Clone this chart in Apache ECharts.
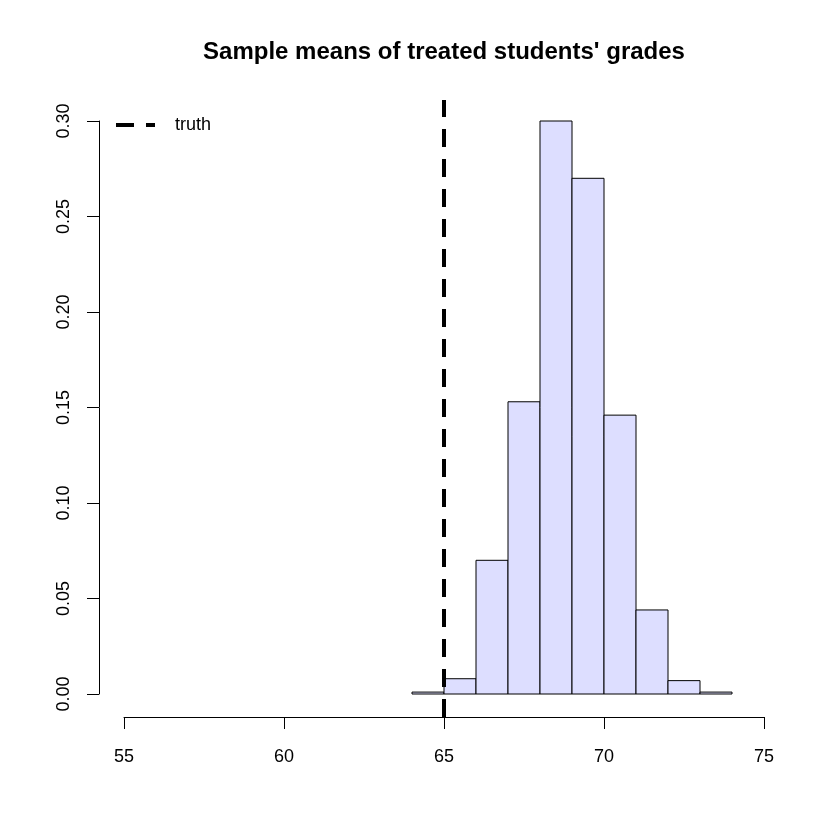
<!DOCTYPE html>
<html>
<head>
<meta charset="utf-8">
<script src="https://cdn.jsdelivr.net/npm/echarts@6/dist/echarts.min.js"></script>
<style>
  html, body { margin: 0; padding: 0; background: #fff; }
  #chart { width: 840px; height: 840px; }
</style>
</head>
<body>
<div id="chart"></div>
<script>
// histogram bins (width 1) and their densities
const binStarts = [64, 65, 66, 67, 68, 69, 70, 71, 72, 73]
const binWidth = 1
const densities = [0.001, 0.008, 0.070, 0.153, 0.300, 0.270, 0.146, 0.044, 0.007, 0.001]
const truth = 65
const truthSpan = [-0.012, 0.311]
const xTicks = [55, 60, 65, 70, 75]
const yTicks = [0, 0.05, 0.10, 0.15, 0.20, 0.25, 0.30]

const font = 'Liberation Sans, Arial, sans-serif'

const chart = echarts.init(document.getElementById('chart'))

const histData = binStarts.map((s, i) => [s, s + binWidth, densities[i]])

chart.setOption({
  animation: false,
  title: {
    text: "Sample means of treated students' grades",
    left: 439,
    top: 35,
    textAlign: 'center',
    textStyle: { fontFamily: font, fontSize: 24, fontWeight: 'bold', color: '#000' }
  },
  legend: {
    left: 111,
    top: 111,
    itemWidth: 39,
    itemHeight: 4,
    icon: 'path://M0,0L18,0L18,4L0,4Z M30,0L39,0L39,4L30,4Z',
    data: ['truth'],
    textStyle: { fontFamily: font, fontSize: 18, color: '#000', padding: [0, 0, 0, 15] }
  },
  grid: { left: 124, right: 76, top: 121, bottom: 146 },
  xAxis: {
    type: 'value',
    min: xTicks[0],
    max: xTicks[xTicks.length - 1],
    interval: 5,
    offset: 23,
    splitLine: { show: false },
    axisLine: { onZero: false, lineStyle: { color: '#000', width: 1 } },
    axisTick: { length: 12, lineStyle: { color: '#000' } },
    axisLabel: { margin: 31, fontFamily: font, fontSize: 18, color: '#000' }
  },
  yAxis: {
    type: 'value',
    min: yTicks[0],
    max: yTicks[yTicks.length - 1],
    interval: 0.05,
    offset: 25,
    splitLine: { show: false },
    axisLine: { show: true, lineStyle: { color: '#000', width: 1 } },
    axisTick: { show: true, length: 12, lineStyle: { color: '#000' } },
    axisLabel: {
      rotate: 90,
      margin: 26,
      fontFamily: font,
      fontSize: 18,
      color: '#000',
      formatter: v => v.toFixed(2)
    }
  },
  series: [
    {
      type: 'custom',
      name: 'hist',
      data: histData,
      renderItem: (params, api) => {
        const p0 = api.coord([api.value(0), 0])
        const p1 = api.coord([api.value(1), api.value(2)])
        return {
          type: 'rect',
          shape: { x: p0[0], y: p1[1], width: p1[0] - p0[0], height: p0[1] - p1[1] },
          style: { fill: '#dddeff', stroke: '#000', lineWidth: 1 }
        }
      }
    },
    {
      type: 'line',
      name: 'truth',
      clip: false,
      symbol: 'none',
      data: [[truth, truthSpan[0]], [truth, truthSpan[1]]],
      lineStyle: { color: '#000', width: 4, type: [18, 12], cap: 'butt' },
      itemStyle: { color: '#000' }
    }
  ]
})
</script>
</body>
</html>
